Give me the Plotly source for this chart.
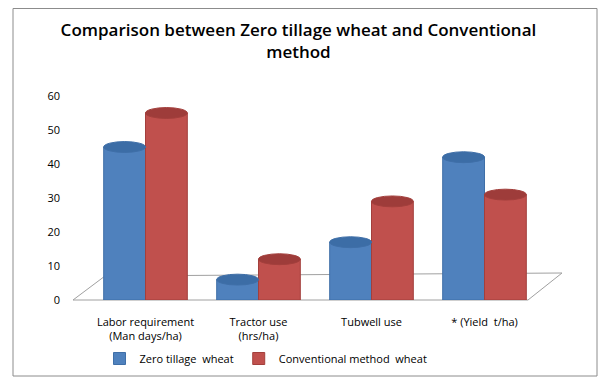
import plotly.graph_objects as go

categories = ["Labor requirement<br>(Man days/ha)", "Tractor use<br>(hrs/ha)", "Tubwell use", "* (Yield  t/ha)"]
zero_tillage = [45, 6, 17, 42]
conventional = [55, 12, 29, 31]
y_ticks = [0, 10, 20, 30, 40, 50, 60]

# the page places the figure 8px from the top-left corner of the window
OFF = 8
W, H = 613 - OFF, 385 - OFF
# plot area, in window pixels
PL, PR, PT, PB = 89, 541, 96, 300
L, R, T, B = PL - OFF, W - (PR - OFF), PT - OFF, H - (PB - OFF)
pw, ph = W - L - R, H - T - B

def fx(x):
    return (x - OFF - L) / pw

def fy(y):
    return (H - B - (y - OFF)) / ph

font = "Open Sans"
blue, blue_top = "#4F81BD", "#3C6DA6"
red, red_top = "#C0504D", "#9E3C3A"

fig = go.Figure()
fig.add_trace(go.Bar(x=categories, y=zero_tillage, name="Zero tillage  wheat",
                     marker=dict(color=blue, line=dict(color="#3F6FA8", width=1))))
fig.add_trace(go.Bar(x=categories, y=conventional, name="Conventional method  wheat",
                     marker=dict(color=red, line=dict(color="#A33F3C", width=1))))

bargap = 0.26
half = (1 - bargap) / 4  # half width of one bar in category units
cap = 1.6  # half height of the top ellipse in data units

shapes = [
    # outer chart border
    dict(type="rect", xref="paper", yref="paper", x0=fx(13), x1=fx(597), y0=fy(376), y1=fy(8.5),
         line=dict(color="#8C8C8C", width=1), layer="below"),
    # floor
    dict(type="path", xref="paper", yref="paper",
         path=f"M {fx(73)},{fy(300)} L {fx(105)},{fy(276)} L {fx(562)},{fy(273)} L {fx(528)},{fy(300)} Z",
         line=dict(color="#A0A0A0", width=1), fillcolor="rgba(0,0,0,0)", layer="below"),
]
for i, (zv, cv) in enumerate(zip(zero_tillage, conventional)):
    for centre, v, col, edge in ((i - half, zv, blue_top, "#3F6FA8"), (i + half, cv, red_top, "#A33F3C")):
        shapes.append(dict(type="circle", xref="x", yref="y",
                           x0=centre - half, x1=centre + half, y0=v - cap, y1=v + cap,
                           fillcolor=col, line=dict(color=edge, width=1), layer="above"))

fig.update_layout(
    width=W, height=H,
    margin=dict(l=L, r=R, t=T, b=B),
    paper_bgcolor="white", plot_bgcolor="white",
    barmode="group", bargap=bargap, bargroupgap=0.0,
    title=dict(text="Comparison between Zero tillage wheat and Conventional<br>method",
               x=fx(306), xanchor="center", y=1 - 28 / H, yanchor="top",
               font=dict(family=font, size=17, weight=600, color="#000000")),
    font=dict(family=font, size=11, color="#000000"),
    xaxis=dict(showline=False, showgrid=False, ticks="", ticklabelstandoff=14,
               tickfont=dict(size=11)),
    yaxis=dict(range=[0, 60], tickvals=y_ticks, showgrid=False, showline=False,
               zeroline=False, ticks="", ticklabelstandoff=28, tickfont=dict(size=11)),
    legend=dict(orientation="h", x=fx(266), xanchor="center", y=fy(344), yanchor="top",
                font=dict(size=11), itemwidth=30, traceorder="normal"),
    shapes=shapes,
)

fig.write_html("out.html")
